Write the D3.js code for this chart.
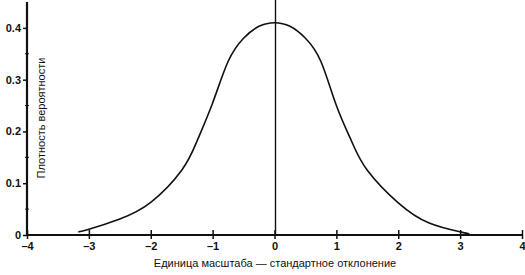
<html>
<head>
    <meta charset="utf-8">
    <title>Normal density</title>
    <style>
        body {
            padding: 0;
            margin: 0;
            background: white;
            font-family: "Liberation Sans", Arial, sans-serif;
        }
        .tick text {
            font-size: 11px;
            font-weight: bold;
            fill: #111;
        }
        .title {
            font-size: 11px;
            fill: #111;
        }
        .curve {
            fill: none;
            stroke: #111;
            stroke-width: 1.6;
        }
    </style>
</head>
<body>
    <div id="chart"></div>
    <script src="https://d3js.org/d3.v7.min.js"></script>
    <script>
        // values
        var xs = [-3.17, -3, -2.5, -2, -1.5, -1.25, -1, -0.75, -0.5, -0.25, 0,
                  0.25, 0.5, 0.75, 1, 1.25, 1.5, 2, 2.5, 3, 3.15];
        var density = [0.006, 0.011, 0.031, 0.063, 0.125, 0.182, 0.255, 0.335, 0.38, 0.403, 0.41,
                       0.403, 0.38, 0.335, 0.25, 0.18, 0.125, 0.062, 0.023, 0.006, 0.002];
        var xTicks = [-4, -3, -2, -1, 0, 1, 2, 3, 4];
        var yTicks = [0, 0.1, 0.2, 0.3, 0.4];
        var yMinor = [0.05, 0.15, 0.25, 0.35];

        var width = 525, height = 275;

        var x = d3.scaleLinear().domain([-4, 4]).range([27, 522]);
        var y = d3.scaleLinear().domain([0, 0.45]).range([235, 2]);

        var svg = d3.select("#chart")
            .append("svg")
            .attr("width", width)
            .attr("height", height);

        // x axis, ticks cross the line
        var gx = svg.append("g")
            .attr("transform", "translate(0," + y(0) + ")")
            .call(d3.axisBottom(x).tickValues(xTicks).tickSize(4)
                .tickFormat(function (d) { return d < 0 ? "\u2013" + (-d) : d; }));
        gx.select(".domain").remove();
        gx.selectAll(".tick line").attr("y1", -5).attr("y2", 4).attr("stroke", "#111").attr("stroke-width", 1.5);
        gx.selectAll(".tick text").attr("dy", "0.95em").attr("y", 5);
        svg.append("line")
            .attr("x1", x(-4)).attr("x2", x(4) + 1)
            .attr("y1", y(0)).attr("y2", y(0))
            .attr("stroke", "#111").attr("stroke-width", 2.2);

        // y axis
        var gy = svg.append("g")
            .attr("transform", "translate(" + x(-4) + ",0)")
            .call(d3.axisLeft(y).tickValues(yTicks).tickSize(4)
                .tickFormat(function (d) { return d === 0 ? "0" : d3.format(".1f")(d); }));
        gy.select(".domain").remove();
        gy.selectAll(".tick line").attr("stroke", "#111").attr("stroke-width", 1.5);
        gy.selectAll(".tick text").attr("x", -6);
        svg.append("g")
            .selectAll("line")
            .data(yMinor)
            .enter()
            .append("line")
            .attr("x1", x(-4) - 2).attr("x2", x(-4) + 2)
            .attr("y1", function (d) { return y(d); })
            .attr("y2", function (d) { return y(d); })
            .attr("stroke", "#111").attr("stroke-width", 1);
        svg.append("line")
            .attr("x1", x(-4)).attr("x2", x(-4))
            .attr("y1", y(0) + 1).attr("y2", y(0.45))
            .attr("stroke", "#111").attr("stroke-width", 2.2);

        // vertical line at zero
        svg.append("line")
            .attr("x1", x(0) + 1).attr("x2", x(0) + 1)
            .attr("y1", 0).attr("y2", y(0))
            .attr("stroke", "#111").attr("stroke-width", 1.4);

        var line = d3.line()
            .x(function (d, i) { return x(xs[i]); })
            .y(function (d) { return y(d); })
            .curve(d3.curveNatural);

        svg.append("path")
            .datum(density)
            .attr("class", "curve")
            .attr("d", line);

        // titles
        svg.append("text")
            .attr("class", "title")
            .attr("x", 275).attr("y", 267)
            .attr("text-anchor", "middle")
            .text("Единица масштаба — стандартное отклонение");

        svg.append("text")
            .attr("class", "title")
            .attr("transform", "translate(45,118) rotate(-90)")
            .attr("text-anchor", "middle")
            .text("Плотность вероятности");
    </script>
</body>
</html>
